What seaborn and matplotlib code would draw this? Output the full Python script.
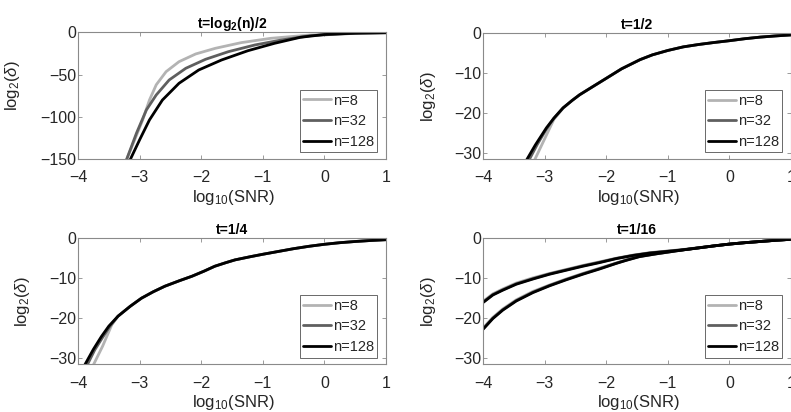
import numpy as np
import pandas as pd
import matplotlib
matplotlib.use("Agg")
import matplotlib.pyplot as plt
import seaborn as sns
from matplotlib.lines import Line2D

# ---------------- data ----------------
n_labels = ["n=8", "n=32", "n=128"]
colors = ["#b3b3b3", "#5f5f5f", "#000000"]

# Panel A: t = log2(n)/2
a8_x = [-3.21, -3.08, -2.95, -2.84, -2.73, -2.57, -2.36, -2.09, -1.77, -1.35, -0.87, -0.23, 0.25, 0.6, 1.0]
a8_y = [-150, -127, -103.5, -80, -62, -46.5, -34.7, -25.6, -18.9, -12.2, -7.1, -3.2, -1.8, -1.0, -0.5]
a32_x = [-3.21, -3.05, -2.89, -2.73, -2.52, -2.25, -1.93, -1.56, -1.13, -0.70, -0.23, 0.25, 0.6, 1.0]
a32_y = [-150, -119, -91.7, -74, -56.3, -42.5, -31.9, -22.9, -15, -9.1, -4.0, -2.0, -1.0, -0.5]
a128_x = [-3.15, -3.0, -2.84, -2.63, -2.36, -2.04, -1.67, -1.24, -0.81, -0.39, 0.0, 0.5, 1.0]
a128_y = [-150, -127, -103.5, -80, -60.2, -44.5, -32.7, -21.7, -13, -5.9, -2.6, -1.0, -0.5]

# Panel B: t = 1/2
b8_x = [-3.16, -3.0, -2.85, -2.7, -2.55, -2.43, -2.2, -1.99, -1.75, -1.45, -1.25, -1.0, -0.75, -0.5, -0.25, 0.0, 0.25, 0.5, 0.75, 1.0]
b8_y = [-31.7, -26.5, -21.6, -18.8, -16.8, -15.4, -13.2, -11.2, -8.9, -6.6, -5.4, -4.3, -3.4, -2.8, -2.3, -1.85, -1.35, -0.95, -0.65, -0.4]
b32_x = [-3.25, -3.12, -2.97, -2.85, -2.7, -2.55, -2.43, -2.2, -1.99, -1.75, -1.45, -1.25, -1.0, -0.75, -0.5, -0.25, 0.0, 0.25, 0.5, 0.75, 1.0]
b32_y = [-31.7, -27.9, -24.0, -21.3, -18.7, -16.8, -15.4, -13.2, -11.2, -8.9, -6.6, -5.4, -4.3, -3.4, -2.8, -2.3, -1.85, -1.35, -0.95, -0.65, -0.4]
b128_x = [-3.29, -3.15, -2.97, -2.85, -2.7, -2.55, -2.43, -2.2, -1.99, -1.75, -1.45, -1.25, -1.0, -0.75, -0.5, -0.25, 0.0, 0.25, 0.5, 0.75, 1.0]
b128_y = [-31.7, -28.0, -23.7, -21.3, -18.7, -16.8, -15.4, -13.2, -11.2, -8.9, -6.6, -5.4, -4.3, -3.4, -2.8, -2.3, -1.85, -1.35, -0.95, -0.65, -0.4]

# Panel C: t = 1/4
c8_x = [-3.75, -3.6, -3.45, -3.35, -3.15, -2.97, -2.78, -2.59, -2.35, -2.15, -1.95, -1.78, -1.6, -1.45, -1.2, -1.0, -0.75, -0.5, -0.25, 0.0, 0.25, 0.5, 0.75, 1.0]
c8_y = [-31.7, -27.0, -21.6, -19.5, -17.0, -15.0, -13.4, -12.0, -10.6, -9.5, -8.2, -7.0, -6.1, -5.4, -4.6, -4.0, -3.3, -2.6, -2.0, -1.5, -1.1, -0.8, -0.55, -0.35]
c32_x = [-3.85, -3.73, -3.6, -3.48, -3.35, -3.15, -2.97, -2.78, -2.59, -2.35, -2.15, -1.95, -1.78, -1.6, -1.45, -1.2, -1.0, -0.75, -0.5, -0.25, 0.0, 0.25, 0.5, 0.75, 1.0]
c32_y = [-31.7, -28.0, -24.8, -22.0, -19.5, -17.0, -15.0, -13.4, -12.0, -10.6, -9.5, -8.2, -7.0, -6.1, -5.4, -4.6, -4.0, -3.3, -2.6, -2.0, -1.5, -1.1, -0.8, -0.55, -0.35]
c128_x = [-3.89, -3.75, -3.62, -3.5, -3.35, -3.15, -2.97, -2.78, -2.59, -2.35, -2.15, -1.95, -1.78, -1.6, -1.45, -1.2, -1.0, -0.75, -0.5, -0.25, 0.0, 0.25, 0.5, 0.75, 1.0]
c128_y = [-31.7, -27.8, -24.6, -22.0, -19.5, -17.0, -15.0, -13.4, -12.0, -10.6, -9.5, -8.2, -7.0, -6.1, -5.4, -4.6, -4.0, -3.3, -2.6, -2.0, -1.5, -1.1, -0.8, -0.55, -0.35]

# Panel D: t = 1/16 (two branches per n)
d_x_up = [-4.0, -3.84, -3.68, -3.46, -3.19, -2.92, -2.65, -2.38, -2.11, -1.84, -1.56, -1.29, -1.02, -0.75, -0.5, -0.25, 0.0, 0.25, 0.5, 0.75, 1.0]
d8_up = [-15.8, -13.9, -12.7, -11.2, -9.9, -8.8, -7.8, -6.8, -5.9, -5.0, -4.2, -3.6, -3.2, -2.8, -2.35, -1.9, -1.45, -1.1, -0.8, -0.5, -0.25]
d32_up = [-16.0, -14.1, -12.9, -11.4, -10.1, -8.9, -7.9, -6.9, -6.0, -5.05, -4.25, -3.65, -3.25, -2.85, -2.4, -1.9, -1.45, -1.1, -0.8, -0.5, -0.25]
d128_up = [-16.1, -14.2, -13.0, -11.5, -10.2, -9.0, -8.0, -7.0, -6.1, -5.1, -4.3, -3.7, -3.3, -2.9, -2.4, -1.9, -1.45, -1.1, -0.8, -0.5, -0.25]
d_x_lo = [-4.0, -3.84, -3.68, -3.46, -3.19, -2.92, -2.65, -2.38, -2.11, -1.84, -1.67, -1.46, -1.19, -0.75, -0.5, -0.25, 0.0, 0.25, 0.5, 0.75, 1.0]
d8_lo = [-22.5, -19.8, -17.7, -15.4, -13.3, -11.7, -10.2, -8.8, -7.5, -6.2, -5.4, -4.5, -3.85, -2.85, -2.35, -1.9, -1.45, -1.1, -0.8, -0.5, -0.25]
d32_lo = [-22.7, -20.0, -17.9, -15.6, -13.5, -11.8, -10.3, -8.9, -7.6, -6.25, -5.45, -4.55, -3.9, -2.9, -2.4, -1.9, -1.45, -1.1, -0.8, -0.5, -0.25]
d128_lo = [-22.8, -20.1, -18.0, -15.7, -13.6, -11.9, -10.4, -9.0, -7.7, -6.3, -5.5, -4.6, -3.9, -2.9, -2.4, -1.9, -1.45, -1.1, -0.8, -0.5, -0.25]

titles = [r"t=log$_\mathbf{2}$(n)/2", "t=1/2", "t=1/4", "t=1/16"]


def frame(series):
    rows = []
    for label, branch, xs, ys in series:
        for xv, yv in zip(xs, ys):
            rows.append({"x": xv, "y": yv, "n": label, "branch": f"{label}-{branch}"})
    return pd.DataFrame(rows)


panels = [
    frame([("n=8", 0, a8_x, a8_y), ("n=32", 0, a32_x, a32_y), ("n=128", 0, a128_x, a128_y)]),
    frame([("n=8", 0, b8_x, b8_y), ("n=32", 0, b32_x, b32_y), ("n=128", 0, b128_x, b128_y)]),
    frame([("n=8", 0, c8_x, c8_y), ("n=32", 0, c32_x, c32_y), ("n=128", 0, c128_x, c128_y)]),
    frame([("n=8", 0, d_x_up, d8_up), ("n=8", 1, d_x_lo, d8_lo),
           ("n=32", 0, d_x_up, d32_up), ("n=32", 1, d_x_lo, d32_lo),
           ("n=128", 0, d_x_up, d128_up), ("n=128", 1, d_x_lo, d128_lo)]),
]

# ---------------- style ----------------
sns.set_theme(style="white")
plt.rcParams["font.family"] = ["Liberation Sans", "DejaVu Sans"]
plt.rcParams["mathtext.fontset"] = "custom"
plt.rcParams["mathtext.rm"] = "Liberation Sans"
plt.rcParams["mathtext.it"] = "Liberation Sans:italic"
plt.rcParams["mathtext.bf"] = "Liberation Sans:bold"

fig = plt.figure(figsize=(7.91, 4.12), dpi=100)
W = 0.3894
positions = [
    [0.0986, 0.6133, W, 0.3083],
    [0.6106, 0.6133, W, 0.3058],
    [0.0986, 0.1153, W, 0.3063],
    [0.6106, 0.1153, W, 0.3063],
]
ylabel_xy = [(-0.183, 0.58), (-0.146, 0.5), (-0.149, 0.5), (-0.146, 0.5)]
palette = dict(zip(n_labels, colors))
spine_col = "#8a8a8a"
text_col = "#262626"

for i, (pos, df) in enumerate(zip(positions, panels)):
    ax = fig.add_axes(pos)
    sns.lineplot(data=df, x="x", y="y", hue="n", units="branch", estimator=None,
                 palette=palette, hue_order=n_labels, sort=False, linewidth=2.0,
                 legend=False, ax=ax)
    ax.set_xlim(-4, 1)
    ax.set_xticks([-4, -3, -2, -1, 0, 1])
    if i == 0:
        ax.set_ylim(-150, 0)
        ax.set_yticks([-150, -100, -50, 0])
    else:
        ax.set_ylim(-31.6, 0)
        ax.set_yticks([-30, -20, -10, 0])
    ax.set_xlabel(r"log$_{10}$(SNR)", fontsize=12, color=text_col)
    ax.xaxis.set_label_coords(0.505, -0.225)
    ax.set_ylabel(r"log$_2$($\delta$)", fontsize=12, color=text_col)
    ax.yaxis.set_label_coords(*ylabel_xy[i])
    ax.set_title(titles[i], fontsize=10, fontweight="bold", color="black", pad=3)
    ax.tick_params(direction="in", length=3, width=0.6, top=True, right=True,
                   bottom=True, left=True, colors=spine_col, labelcolor=text_col,
                   labelsize=11.5)
    ax.tick_params(axis="x", pad=8)
    ax.tick_params(axis="y", pad=1.5)
    for s in ax.spines.values():
        s.set_color(spine_col)
        s.set_linewidth(0.8)
    handles = [Line2D([0], [0], color=c, lw=2.0) for c in colors]
    leg = ax.legend(handles, n_labels, loc="lower right", bbox_to_anchor=(0.972, 0.055),
                    borderaxespad=0, fontsize=10.5, frameon=True, fancybox=False,
                    handlelength=1.9, handletextpad=0.1, labelspacing=0.45,
                    borderpad=0.25)
    leg.get_frame().set_edgecolor("#262626")
    leg.get_frame().set_linewidth(0.6)

fig.savefig("out.png", dpi=100, facecolor="white")
